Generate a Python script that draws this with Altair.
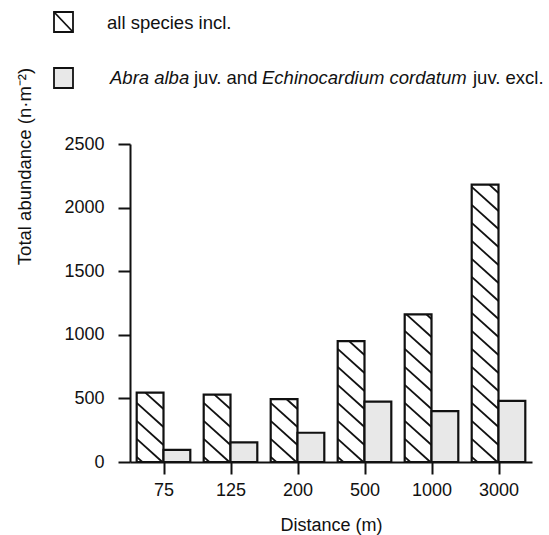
import altair as alt
import pandas as pd

# Total abundance per distance class
distance = ["75", "125", "200", "500", "1000", "3000"]
all_species = [545, 530, 495, 950, 1160, 2180]
juv_excluded = [95, 155, 230, 475, 400, 480]

FONT = "Liberation Sans"
INK = "#111111"
LIGHT = "#e8e8e8"

# plot geometry (pixels) used to keep the hatch angle and spacing constant
W, H = 402, 318
X_DOMAIN = [-0.5, 5.5]
Y_DOMAIN = [0, 2500]
PX_X = W / (X_DOMAIN[1] - X_DOMAIN[0])
PX_Y = H / (Y_DOMAIN[1] - Y_DOMAIN[0])
HATCH_SLOPE = 0.9 * PX_X / PX_Y      # data-y per data-x
HATCH_STEP = 18 / PX_Y               # vertical distance between hatch lines
BAR_W = 0.4

idx = list(range(len(distance)))
bars_all = pd.DataFrame({
    "x0": [i - BAR_W for i in idx], "x1": idx,
    "v": all_species, "base": 0,
})
bars_exc = pd.DataFrame({
    "x0": idx, "x1": [i + BAR_W for i in idx],
    "v": juv_excluded, "base": 0,
})


def hatch_segments(x0, x1, top, phase=40.0):
    """Diagonal lines clipped to the rectangle [x0, x1] x [0, top]."""
    drop = HATCH_SLOPE * (x1 - x0)
    segs = []
    c = phase
    while c - drop < top:
        if c > 0:
            ys = min(c, top)
            ye = max(c - drop, 0.0)
            segs.append({
                "x0": x0 + (c - ys) / HATCH_SLOPE, "v": ys,
                "x1": x0 + (c - ye) / HATCH_SLOPE, "base": ye,
            })
        c += HATCH_STEP
    return segs


hatch = pd.DataFrame([
    s for _, r in bars_all.iterrows()
    for s in hatch_segments(r["x0"], r["x1"], r["v"])
])

x_scale = alt.Scale(domain=X_DOMAIN, nice=False, zero=False)
y_scale = alt.Scale(domain=Y_DOMAIN, nice=False)

label_expr = "[" + ",".join("'%s'" % d for d in distance) + "][round(datum.value)]"

x_axis = alt.Axis(
    title="Distance (m)", values=idx, labelExpr=label_expr,
    grid=False, tickSize=12, labelPadding=7,
    titleY=68, titleBaseline="alphabetic",
)
y_axis = alt.Axis(
    title="Total abundance (n·m⁻²)", values=[0, 500, 1000, 1500, 2000, 2500],
    format="d", grid=False, tickSize=12, labelPadding=14,
    titleAngle=-90, titleX=-100, titleY=22, titleAlign="center",
    titleBaseline="alphabetic", titleFontSize=18.5,
)

# every bar-type layer shares the same fields, scales and axes
enc = dict(
    x=alt.X("x0:Q", scale=x_scale, axis=x_axis),
    x2="x1:Q",
    y=alt.Y("v:Q", scale=y_scale, axis=y_axis),
    y2="base:Q",
)

# hatched bars: white fill, then diagonal lines, then outline
all_fill = alt.Chart(bars_all).mark_rect(fill="white", stroke=None).encode(**enc)
hatch_lines = alt.Chart(hatch).mark_rule(color=INK, strokeWidth=1.8).encode(**enc)
all_outline = alt.Chart(bars_all).mark_rect(
    fillOpacity=0, stroke=INK, strokeWidth=2.2
).encode(**enc)
exc_bars = alt.Chart(bars_exc).mark_rect(
    fill=LIGHT, stroke=INK, strokeWidth=2.2
).encode(**enc)

# legend drawn above the plot area
one = alt.Data(values=[{}])
key_all = alt.Chart(one).mark_rect(fill="white", stroke=INK, strokeWidth=1.8).encode(
    x=alt.value(-76), x2=alt.value(-57), y=alt.value(-132), y2=alt.value(-112)
)
key_all_line = alt.Chart(one).mark_rule(color=INK, strokeWidth=1.8).encode(
    x=alt.value(-76), x2=alt.value(-57), y=alt.value(-132), y2=alt.value(-112)
)
key_exc = alt.Chart(one).mark_rect(fill=LIGHT, stroke=INK, strokeWidth=1.8).encode(
    x=alt.value(-76), x2=alt.value(-57), y=alt.value(-76), y2=alt.value(-56)
)


def legend_text(text, x, y, italic=False):
    return alt.Chart(one).mark_text(
        text=text, font=FONT, fontSize=18.5, color=INK, align="left",
        baseline="middle", fontStyle="italic" if italic else "normal",
    ).encode(x=alt.value(x), y=alt.value(y))


legend = [
    key_all, key_all_line, key_exc,
    legend_text("all species incl.", -23, -121),
    legend_text("Abra alba", -20, -66, italic=True),
    legend_text("juv. and", 64, -66),
    legend_text("Echinocardium cordatum", 132, -66, italic=True),
    legend_text("juv. excl.", 343, -66),
]

chart = alt.layer(
    all_fill, hatch_lines, all_outline, exc_bars, *legend
).properties(
    width=W, height=H,
    autosize=alt.AutoSizeParams(type="none"),
    padding={"left": 130, "top": 144, "right": 17, "bottom": 73},
).configure_view(stroke=None).configure_axis(
    domainColor=INK, domainWidth=2, tickColor=INK, tickWidth=2,
    labelFont=FONT, labelFontSize=18, labelColor=INK,
    titleFont=FONT, titleFontSize=18, titleColor=INK, titleFontWeight="normal",
)

chart.save("out.html", embed_options={"renderer": "svg", "actions": False})
